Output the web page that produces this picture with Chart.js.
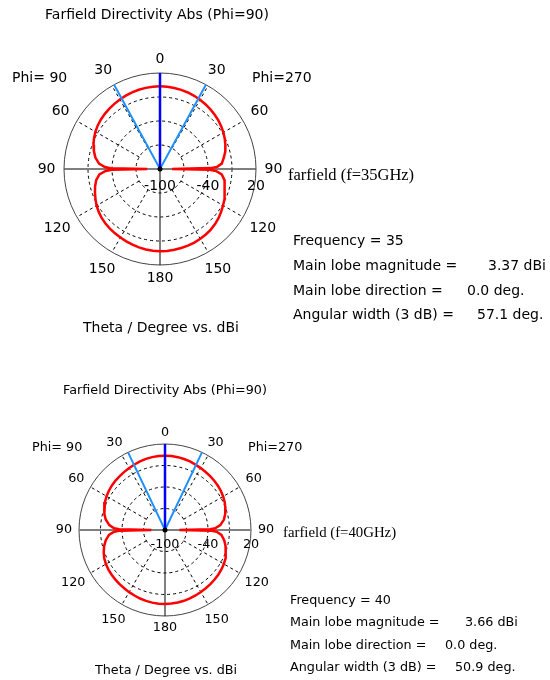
<!DOCTYPE html>
<html>
<head>
<meta charset="utf-8">
<script src="https://cdn.jsdelivr.net/npm/chart.js@4.4.0/dist/chart.umd.min.js"></script>
<style>
  body { margin: 0; background: #fff; }
  #page { position: relative; width: 550px; height: 680px; overflow: hidden; color: #000;
          font-family: 'DejaVu Sans', sans-serif; }
  canvas { position: absolute; left: 0; }
  .t { position: absolute; white-space: pre; line-height: 1; transform: translateY(-50%); }
  .c { transform: translate(-50%, -50%); }
  .serif { font-family: 'Liberation Serif', 'DejaVu Serif', serif; }
  .p1 { font-size: 14px; }
  .p2 { font-size: 12.75px; }
  .p1.serif { font-size: 16.5px; }
  .p2.serif { font-size: 14.8px; }
</style>
</head>
<body>
<div id="page">
  <canvas id="plot35" width="550" height="340" style="top:0"></canvas>
  <canvas id="plot40" width="550" height="340" style="top:340px"></canvas>

  <div class="t c p1" style="left:157px;top:14px">Farfield Directivity Abs (Phi=90)</div>
  <div class="t p1" style="left:12px;top:77px">Phi= 90</div>
  <div class="t p1" style="left:252px;top:77px">Phi=270</div>
  <div class="t p1 serif" style="left:288px;top:175px">farfield (f=35GHz)</div>
  <div class="t p1" style="left:293px;top:240px">Frequency = 35</div>
  <div class="t p1" style="left:293px;top:265px">Main lobe magnitude =</div>
  <div class="t p1" style="left:488px;top:265px">3.37 dBi</div>
  <div class="t p1" style="left:293px;top:290px">Main lobe direction =</div>
  <div class="t p1" style="left:467px;top:290px">0.0 deg.</div>
  <div class="t p1" style="left:293px;top:314px">Angular width (3 dB) =</div>
  <div class="t p1" style="left:477px;top:314px">57.1 deg.</div>
  <div class="t c p1" style="left:161px;top:327px">Theta / Degree vs. dBi</div>

  <div class="t c p2" style="left:165px;top:390px">Farfield Directivity Abs (Phi=90)</div>
  <div class="t p2" style="left:32px;top:447px">Phi= 90</div>
  <div class="t p2" style="left:248px;top:447px">Phi=270</div>
  <div class="t p2 serif" style="left:283px;top:532px">farfield (f=40GHz)</div>
  <div class="t p2" style="left:290px;top:600px">Frequency = 40</div>
  <div class="t p2" style="left:290px;top:622px">Main lobe magnitude =</div>
  <div class="t p2" style="left:465px;top:622px">3.66 dBi</div>
  <div class="t p2" style="left:290px;top:645px">Main lobe direction =</div>
  <div class="t p2" style="left:445px;top:645px">0.0 deg.</div>
  <div class="t p2" style="left:290px;top:667px">Angular width (3 dB) =</div>
  <div class="t p2" style="left:455px;top:667px">50.9 deg.</div>
  <div class="t c p2" style="left:166px;top:670px">Theta / Degree vs. dBi</div>
</div>

<script>
// Theta sample angles (degrees), same for every cut
const theta = [0, 5, 10, 15, 20, 25, 30, 35, 40, 45, 50, 55, 60, 65, 70, 75, 80, 85,
               88, 89, 90, 91, 92,
               95, 100, 105, 110, 115, 120, 125, 130, 135, 140, 145, 150, 155, 160, 165, 170, 175, 180];

// Directivity (dBi) at 35 GHz
const dir35Phi90 = [3.37, 3.3, 3.0, 2.6, 2.0, 1.2, 0.2, -0.6, -1.5, -2.5, -3.6, -5.0, -6.8, -9.0, -11.5, -14.5, -18, -23.5,
                    -31, -38, -84, -40, -32,
                    -24, -19, -16, -13.5, -11, -8.5, -6.5, -4.8, -3.6, -2.6, -1.8, -1.0, -0.2, 0.6, 1.4, 2.1, 2.6, 2.9];
const dir35Phi270 = [3.37, 3.25, 2.9, 2.4, 1.8, 1.0, 0.0, -1.1, -2.3, -3.6, -5.0, -6.7, -8.5, -10.7, -13, -15.5, -19, -22.5,
                     -29, -37, -85, -38, -30,
                     -22.5, -18, -16, -14, -11.5, -9, -6.7, -4.5, -2.7, -1.2, -0.1, 0.8, 1.5, 2.0, 2.3, 2.6, 2.8, 2.9];

// Directivity (dBi) at 40 GHz
const dir40Phi90 = [3.66, 3.55, 3.25, 2.7, 1.9, 0.8, -0.2, -1.0, -1.7, -2.4, -3.3, -4.4, -5.8, -7.6, -9.8, -12.5, -16, -22,
                    -29, -36, -81, -36, -29,
                    -21.5, -16, -12, -9, -6.5, -4.8, -3.6, -2.8, -2.1, -1.4, -0.7, 0.1, 0.9, 1.7, 2.4, 2.9, 3.2, 3.3];
const dir40Phi270 = [3.66, 3.5, 3.2, 2.6, 1.8, 0.7, -0.3, -1.2, -2.0, -2.8, -3.7, -4.9, -6.3, -8.1, -10.3, -13, -16.5, -22.5,
                     -30, -37, -80, -35, -28,
                     -21, -16, -12.5, -9.5, -7, -5.2, -3.9, -3.0, -2.2, -1.5, -0.8, 0.0, 0.8, 1.6, 2.3, 2.8, 3.1, 3.3];

// Main lobe direction and 3 dB beam width (deg)
const mainLobeDir = [0.0, 0.0];
const beamWidth = [57.1, 50.9];

// Radial axis (dB) and angle ticks
const dbMin = -100;
const dbMax = 20;
const ringValues = [-70, -40, -10];
const ringLabels = ['-100', '-40', '20'];
const angleTicks = [0, 30, 60, 90, 120, 150, 180];

const rMax = dbMax - dbMin;
const rad = d => d * Math.PI / 180;

// side = -1 for the Phi=90 half (left), +1 for Phi=270 (right)
function toXY(values, side) {
    return theta.map((t, i) => {
        const r = values[i] - dbMin;
        return { x: side * r * Math.sin(rad(t)), y: r * Math.cos(rad(t)) };
    });
}

const polarGrid = {
    id: 'polarGrid',
    beforeDatasetsDraw(chart, args, o) {
        const { ctx, scales: { x, y } } = chart;
        const cx = x.getPixelForValue(0), cy = y.getPixelForValue(0);
        const px = r => x.getPixelForValue(r) - cx;
        const R = px(rMax);
        ctx.save();

        // dashed rings
        ctx.strokeStyle = '#000';
        ctx.lineWidth = 1;
        ctx.setLineDash([3, 3]);
        ringValues.forEach(v => {
            ctx.beginPath();
            ctx.arc(cx, cy, px(v - dbMin), 0, Math.PI * 2);
            ctx.stroke();
        });

        // dashed spokes
        const r0 = px(ringValues[0] - dbMin);
        [30, 60, 120, 150].forEach(a => {
            [-1, 1].forEach(s => {
                const dx = s * Math.sin(rad(a)), dy = -Math.cos(rad(a));
                ctx.beginPath();
                ctx.moveTo(cx + dx * r0, cy + dy * r0);
                ctx.lineTo(cx + dx * R, cy + dy * R);
                ctx.stroke();
            });
        });
        ctx.setLineDash([]);

        // outer circle
        ctx.strokeStyle = '#444';
        ctx.beginPath();
        ctx.arc(cx, cy, R, 0, Math.PI * 2);
        ctx.stroke();

        // horizontal axis + lower vertical axis
        ctx.strokeStyle = o.axisColor;
        ctx.lineWidth = o.axisWidth;
        ctx.beginPath();
        ctx.moveTo(cx - R, cy);
        ctx.lineTo(cx + R, cy);
        ctx.stroke();
        ctx.strokeStyle = '#000';
        ctx.lineWidth = 1;
        ctx.beginPath();
        ctx.moveTo(cx, cy);
        ctx.lineTo(cx, cy + R);
        ctx.stroke();

        // angle labels
        ctx.fillStyle = '#000';
        ctx.font = o.fontPx + "px 'DejaVu Sans', sans-serif";
        ctx.textAlign = 'center';
        ctx.textBaseline = 'middle';
        const h = o.fontPx * 0.75;
        angleTicks.forEach(a => {
            const sides = (a === 0 || a === 180) ? [1] : [-1, 1];
            sides.forEach(s => {
                const sx = s * Math.sin(rad(a)), sy = -Math.cos(rad(a));
                const w = ctx.measureText(String(a)).width;
                const d = R + o.gap + Math.abs(sx) * w / 2 + Math.abs(sy) * h / 2;
                ctx.fillText(String(a), cx + sx * d, cy + sy * d);
            });
        });

        // radial labels
        [dbMin, -40, dbMax].forEach((v, i) => {
            ctx.fillText(ringLabels[i], cx + px(v - dbMin), cy + o.labelDrop);
        });
        ctx.restore();
    },
    afterDatasetsDraw(chart) {
        const { ctx, scales: { x, y } } = chart;
        ctx.save();
        ctx.fillStyle = '#000';
        ctx.beginPath();
        ctx.arc(x.getPixelForValue(0), y.getPixelForValue(0), 2.5, 0, Math.PI * 2);
        ctx.fill();
        ctx.restore();
    }
};

function buildPlot(id, pad, left, right, k, grid) {
    const half = rad(beamWidth[k] / 2);
    const md = rad(mainLobeDir[k]);
    const line = (color, width) => ({
        borderColor: color, borderWidth: width, showLine: true, pointRadius: 0, clip: false
    });
    new Chart(document.getElementById(id), {
        type: 'scatter',
        data: {
            datasets: [
                Object.assign(line('#0000ff', 2.5), { data: [{ x: 0, y: 0 }, { x: rMax * Math.sin(md), y: rMax * Math.cos(md) }] }),
                Object.assign(line('#1e90ff', 2), {
                    data: [{ x: -rMax * Math.sin(half), y: rMax * Math.cos(half) }, { x: 0, y: 0 },
                           { x: rMax * Math.sin(half), y: rMax * Math.cos(half) }]
                }),
                Object.assign(line('#ff0000', 2.5), { data: toXY(left, -1) }),
                Object.assign(line('#ff0000', 2.5), { data: toXY(right, 1) })
            ]
        },
        options: {
            responsive: false,
            animation: false,
            events: [],
            layout: { padding: pad },
            plugins: { legend: { display: false }, tooltip: { enabled: false }, polarGrid: grid },
            scales: {
                x: { type: 'linear', min: -rMax, max: rMax, display: false },
                y: { type: 'linear', min: -rMax, max: rMax, display: false }
            }
        },
        plugins: [polarGrid]
    });
}

buildPlot('plot35', { left: 64, top: 73, right: 294, bottom: 75 }, dir35Phi90, dir35Phi270, 0,
    { fontPx: 14, gap: 8.5, labelDrop: 17, axisColor: '#555', axisWidth: 1.5 });
buildPlot('plot40', { left: 79, top: 104, right: 299, bottom: 64 }, dir40Phi90, dir40Phi270, 1,
    { fontPx: 12.75, gap: 7, labelDrop: 15, axisColor: '#808080', axisWidth: 2 });
</script>
</body>
</html>
